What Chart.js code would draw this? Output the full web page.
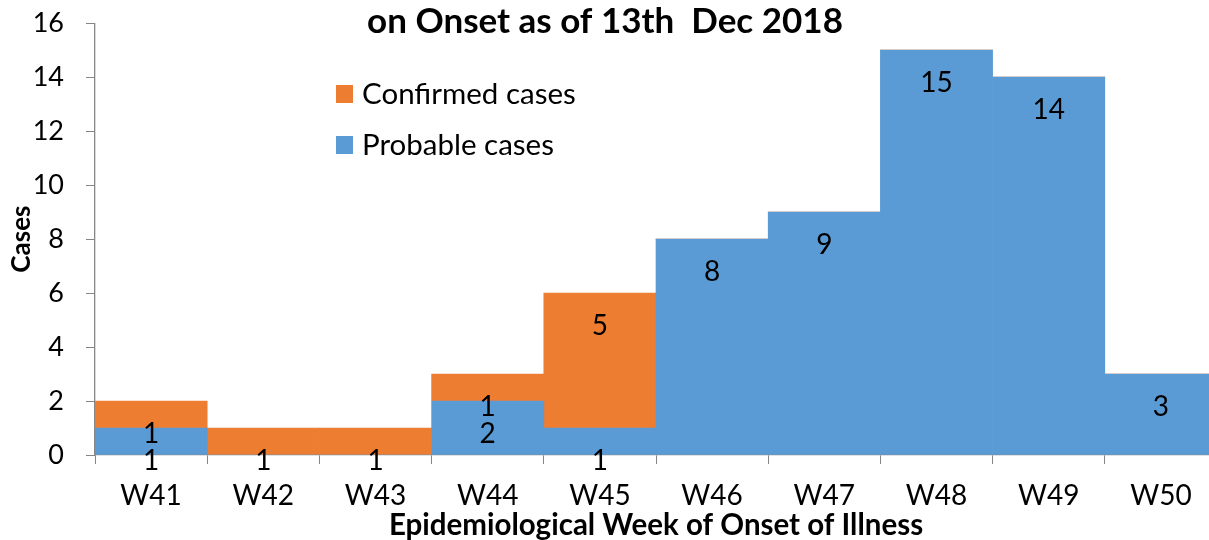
<!DOCTYPE html>
<html>
<head>
<meta charset="utf-8">
<script src="https://cdn.jsdelivr.net/npm/chart.js@4.4.0/dist/chart.umd.min.js"></script>
<style>
  html, body { margin: 0; padding: 0; background: #fff; overflow: hidden; }
  #wrap { width: 1217px; height: 555px; margin-top: -15px; }
</style>
</head>
<body>
<div id="wrap"><canvas id="c" width="1217" height="555" style="width:1217px;height:555px"></canvas></div>
<script>
const weeks = ['W41','W42','W43','W44','W45','W46','W47','W48','W49','W50'];
const probableCases = [1, 0, 0, 2, 1, 8, 9, 15, 14, 3];
const confirmedCases = [1, 1, 1, 1, 5, 0, 0, 0, 0, 0];
const yTicks = [0, 2, 4, 6, 8, 10, 12, 14, 16];
const titleText = 'on Onset as of 13th  Dec 2018';
const xTitle = 'Epidemiological Week of Onset of Illness';
const yTitle = 'Cases';

const FONT = 'Lato';
const AXIS = '#868686';
const SHIFT = 15;

const labelPlugin = {
  id: 'barLabels',
  afterDatasetsDraw(chart) {
    const ctx = chart.ctx;
    ctx.save();
    ctx.font = '28px ' + FONT;
    ctx.fillStyle = '#000';
    ctx.textAlign = 'center';
    ctx.textBaseline = 'middle';
    chart.data.datasets.forEach((ds, i) => {
      const meta = chart.getDatasetMeta(i);
      meta.data.forEach((el, j) => {
        const v = ds.data[j];
        if (v > 0) ctx.fillText(String(v), el.x, el.y + 33);
      });
    });
    ctx.restore();
  }
};

const decorPlugin = {
  id: 'decor',
  afterDraw(chart) {
    const ctx = chart.ctx;
    ctx.save();
    ctx.font = 'bold 35px ' + FONT;
    ctx.fillStyle = '#000';
    ctx.textAlign = 'center';
    ctx.textBaseline = 'middle';
    ctx.fillText(titleText, 605, 22 + SHIFT);
    const items = chart.data.datasets.slice().reverse();
    const ys = [94, 145];
    ctx.font = '29.5px ' + FONT;
    ctx.textAlign = 'left';
    items.forEach((ds, k) => {
      ctx.fillStyle = ds.backgroundColor;
      ctx.fillRect(336, ys[k] - 9 + SHIFT, 17, 18);
      ctx.fillStyle = '#000';
      ctx.fillText(ds.label, 362, ys[k] + SHIFT);
    });
    ctx.restore();
  }
};

new Chart(document.getElementById('c'), {
  type: 'bar',
  data: {
    labels: weeks,
    datasets: [
      { label: 'Probable cases', data: probableCases, backgroundColor: '#5B9BD5', borderWidth: 0, categoryPercentage: 1, barPercentage: 1 },
      { label: 'Confirmed cases', data: confirmedCases, backgroundColor: '#ED7D31', borderWidth: 0, categoryPercentage: 1, barPercentage: 1 }
    ]
  },
  options: {
    responsive: false,
    animation: false,
    layout: { padding: { top: 8, left: 0, right: 0, bottom: 0 } },
    plugins: { legend: { display: false }, title: { display: false }, tooltip: { enabled: false } },
    scales: {
      x: {
        stacked: true,
        offset: true,
        grid: { display: true, drawOnChartArea: false, drawTicks: true, tickLength: 9, color: AXIS, offset: true },
        border: { display: true, color: AXIS, width: 1.3 },
        ticks: { color: '#000', font: { family: FONT, size: 28 }, padding: 15, maxRotation: 0 },
        title: { display: true, text: xTitle, color: '#000', font: { family: FONT, size: 29.5, weight: 'bold' }, padding: { top: 0, bottom: -3 } },
        afterFit(scale) { scale.height = 85; }
      },
      y: {
        stacked: true,
        min: 0, max: 16,
        afterBuildTicks(scale) { scale.ticks = yTicks.map(v => ({ value: v })); },
        grid: { display: true, drawOnChartArea: false, drawTicks: true, tickLength: 9, color: AXIS },
        border: { display: true, color: AXIS, width: 1.3 },
        ticks: { color: '#000', font: { family: FONT, size: 27 }, padding: 22 },
        title: { display: true, text: yTitle, color: '#000', font: { family: FONT, size: 26, weight: 'bold' }, padding: { top: 6, bottom: 0 } },
        afterFit(scale) { scale.width = 95; }
      }
    }
  },
  plugins: [labelPlugin, decorPlugin]
});
</script>
</body>
</html>
